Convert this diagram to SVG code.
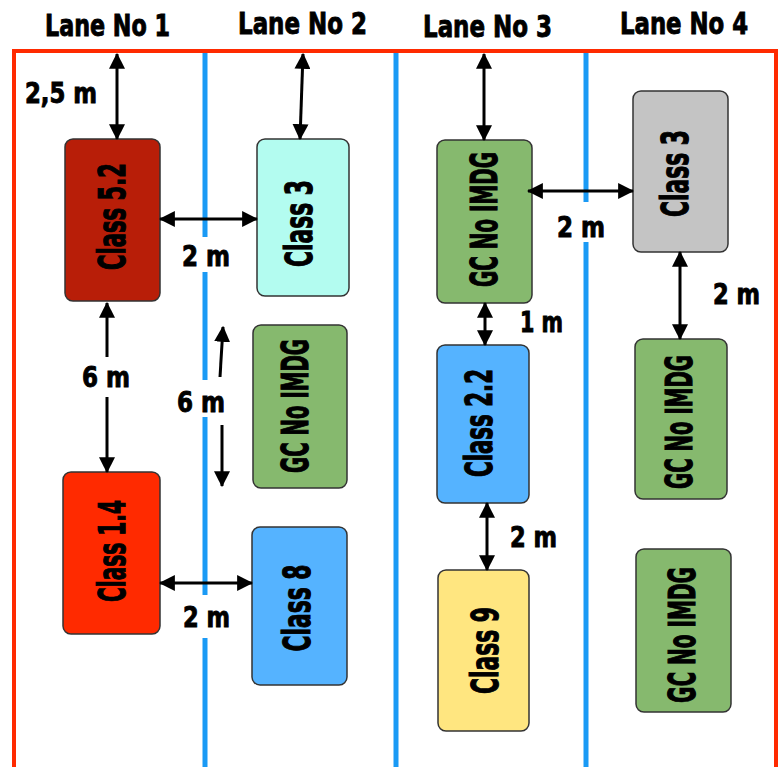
<svg xmlns="http://www.w3.org/2000/svg" width="779" height="767" viewBox="0 0 779 767">
<style>
.t{font-family:"DejaVu Sans Condensed","DejaVu Sans","Liberation Sans",sans-serif;font-weight:bold;fill:#000;stroke:#000;stroke-width:0.9}
.lane{font-size:31px}
.m{font-size:28px}
.n{font-size:37px;text-anchor:middle;stroke-width:1.1}
.box{stroke:#333;stroke-width:1.5}
.blue{stroke:#1A9AF5;stroke-width:5;fill:none}
.arr{stroke:#000;stroke-width:3;fill:none;marker-start:url(#ah);marker-end:url(#ah)}
.one{stroke:#000;stroke-width:3;fill:none;marker-end:url(#ah)}
</style>
<defs>
<marker id="ah" markerUnits="userSpaceOnUse" markerWidth="16" markerHeight="16" viewBox="0 0 14 14" refX="13" refY="7" orient="auto-start-reverse">
<path d="M0,0 L14,7 L0,14 Z" fill="#000"/>
</marker>
</defs>
<rect width="779" height="767" fill="#fff"/>
<g id="frame">
<path d="M14 767 V51 H776 V767" fill="none" stroke="#FF2A00" stroke-width="4"/>
<path class="blue" d="M205 53 V237 M205 272 V380 M205 417 V595 M205 638 V767"/>
<path class="blue" d="M396 53 V767"/>
<path class="blue" d="M586 53 V202 M586 242 V767"/>
</g>
<g id="lanes">
<text class="t lane" x="45" y="36" textLength="125" lengthAdjust="spacingAndGlyphs">Lane No 1</text>
<text class="t lane" x="238" y="34" textLength="129" lengthAdjust="spacingAndGlyphs">Lane No 2</text>
<text class="t lane" x="423" y="37" textLength="129" lengthAdjust="spacingAndGlyphs">Lane No 3</text>
<text class="t lane" x="620" y="34" textLength="128" lengthAdjust="spacingAndGlyphs">Lane No 4</text>
</g>
<g id="n-class52"><rect class="box" x="65" y="139" width="95" height="162" rx="8" fill="#B81E08"/><text class="t n" transform="translate(125 216.5) rotate(-90)" textLength="107" lengthAdjust="spacingAndGlyphs">Class 5.2</text></g>
<g id="n-class3a"><rect class="box" x="257" y="139" width="92" height="157" rx="8" fill="#B3FCF0"/><text class="t n" transform="translate(312 223.5) rotate(-90)" textLength="87" lengthAdjust="spacingAndGlyphs">Class 3</text></g>
<g id="n-gc2"><rect class="box" x="253" y="325" width="94" height="163" rx="8" fill="#86B96E"/><text class="t n" transform="translate(308 406) rotate(-90)" textLength="134" lengthAdjust="spacingAndGlyphs">GC No IMDG</text></g>
<g id="n-class14"><rect class="box" x="63" y="472" width="97" height="162" rx="8" fill="#FF2A00"/><text class="t n" transform="translate(125 551) rotate(-90)" textLength="102" lengthAdjust="spacingAndGlyphs">Class 1.4</text></g>
<g id="n-class8"><rect class="box" x="252" y="527" width="95" height="158" rx="8" fill="#55B3FF"/><text class="t n" transform="translate(310 608) rotate(-90)" textLength="87" lengthAdjust="spacingAndGlyphs">Class 8</text></g>
<g id="n-gc3"><rect class="box" x="437" y="140" width="95" height="163" rx="8" fill="#86B96E"/><text class="t n" transform="translate(497 219.5) rotate(-90)" textLength="135" lengthAdjust="spacingAndGlyphs">GC No IMDG</text></g>
<g id="n-class3b"><rect class="box" x="633" y="91" width="95" height="161" rx="8" fill="#C4C4C4"/><text class="t n" transform="translate(688 173.5) rotate(-90)" textLength="87" lengthAdjust="spacingAndGlyphs">Class 3</text></g>
<g id="n-class22"><rect class="box" x="437" y="345" width="92" height="158" rx="8" fill="#55B3FF"/><text class="t n" transform="translate(492 423) rotate(-90)" textLength="108" lengthAdjust="spacingAndGlyphs">Class 2.2</text></g>
<g id="n-gc4a"><rect class="box" x="635" y="339" width="92" height="160" rx="8" fill="#86B96E"/><text class="t n" transform="translate(692 422) rotate(-90)" textLength="134" lengthAdjust="spacingAndGlyphs">GC No IMDG</text></g>
<g id="n-class9"><rect class="box" x="438" y="570" width="91" height="161" rx="8" fill="#FFE680"/><text class="t n" transform="translate(498 650.5) rotate(-90)" textLength="87" lengthAdjust="spacingAndGlyphs">Class 9</text></g>
<g id="n-gc4b"><rect class="box" x="636" y="549" width="95" height="163" rx="8" fill="#86B96E"/><text class="t n" transform="translate(695 635) rotate(-90)" textLength="136" lengthAdjust="spacingAndGlyphs">GC No IMDG</text></g>
<g id="connectors">
<line class="arr" x1="117" y1="54" x2="117" y2="139"/>
<line class="arr" x1="303" y1="54" x2="300" y2="139"/>
<line class="arr" x1="484" y1="54" x2="484" y2="140"/>
<line class="arr" x1="160" y1="219" x2="257" y2="219"/>
<path class="one" d="M107 357 V303"/>
<path class="one" d="M107 397 V472"/>
<path class="one" d="M220 377 L223 327"/>
<path class="one" d="M222 425 V486"/>
<line class="arr" x1="160" y1="583" x2="252" y2="583"/>
<line class="arr" x1="528" y1="191" x2="633" y2="191"/>
<line class="arr" x1="485" y1="303" x2="485" y2="345"/>
<line class="arr" x1="680" y1="252" x2="680" y2="339"/>
<line class="arr" x1="487" y1="503" x2="487" y2="570"/>
</g>
<g id="labels">
<text class="t m" x="25" y="103" textLength="72" lengthAdjust="spacingAndGlyphs">2,5 m</text>
<text class="t m" x="182" y="266" textLength="48" lengthAdjust="spacingAndGlyphs">2 m</text>
<text class="t m" x="82" y="387" textLength="48" lengthAdjust="spacingAndGlyphs">6 m</text>
<text class="t m" x="177" y="412" textLength="48" lengthAdjust="spacingAndGlyphs">6 m</text>
<text class="t m" x="183" y="627" textLength="47" lengthAdjust="spacingAndGlyphs">2 m</text>
<text class="t m" x="557" y="237" textLength="48" lengthAdjust="spacingAndGlyphs">2 m</text>
<text class="t m" x="520" y="332" textLength="43" lengthAdjust="spacingAndGlyphs">1 m</text>
<text class="t m" x="713" y="304" textLength="47" lengthAdjust="spacingAndGlyphs">2 m</text>
<text class="t m" x="510" y="547" textLength="47" lengthAdjust="spacingAndGlyphs">2 m</text>
</g>
</svg>
